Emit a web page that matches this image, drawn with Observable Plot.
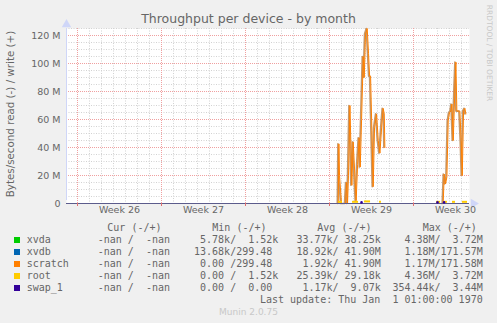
<!DOCTYPE html>
<html><head><meta charset="utf-8">
<script src="https://cdn.jsdelivr.net/npm/d3@7"></script>
<script src="https://cdn.jsdelivr.net/npm/@observablehq/plot@0.6"></script>
<style>
body{margin:0;background:#f0f0f0;}
#wrap{position:relative;width:497px;height:323px;background:#f0f0f0;overflow:hidden;font-family:"DejaVu Sans",sans-serif;color:#666;}
#wrap svg{position:absolute;left:0;top:0;}
.abs{position:absolute;white-space:pre;}
.mono{font-family:"DejaVu Sans Mono",monospace;font-size:10px;line-height:12px;height:12px;}
</style></head><body><div id="wrap"></div>
<script>
// ---- data (days since start of Week 26, values in MB/s) ----
const weekLabels = ["Week 26", "Week 27", "Week 28", "Week 29", "Week 30"];
const weekMid = [3.5, 10.5, 17.5, 24.5, 31.5];
const weekStarts = [0, 7, 14, 21, 28];
const yTicks = [0, 20e6, 40e6, 60e6, 80e6, 100e6, 120e6];
const yTickLabels = ["0", "20 M", "40 M", "60 M", "80 M", "100 M", "120 M"];

const days = [21.70, 21.75, 21.80, 21.97, 22.30, 22.39, 22.47, 22.55, 22.67, 22.83, 22.94, 23.19, 23.31, 23.44, 23.53, 23.64, 23.78, 23.86, 23.97, 24.11, 24.22, 24.31, 24.39, 24.50, 24.61, 24.72, 24.89, 25.03, 25.17, 25.31, 25.44, 25.53, 25.58,
  26.0,
  30.40, 30.44, 30.53, 30.64, 30.75, 30.86, 30.97, 31.08, 31.17, 31.28, 31.42, 31.50, 31.58, 31.83, 31.94, 32.03, 32.14, 32.25, 32.33];
const scratchWrite = [0, 42.6, 20, 0, 0, 15, 0, 20, 70, 13, 44, 2, 28, 47, 26, 60, 105, 90, 121, 125, 107, 91, 91, 52, 12, 54, 64, 45, 36, 54, 68, 64, 40,
  null,
  0, 0, 21, 14, 19, 59, 65, 66, 71, 45, 83, 101, 66, 66, 45, 20, 66, 68, 64];
const xvdbWrite = [0, 42.6, 20, 0, 0, 15, 0, 20, 70, 13, 44, 2, 28, 47, 26, 60, 105, 90, 121, 125, 107, 91, 91, 52, 12, 54, 64, 45, 36, 54, 68, 64, 40,
  null,
  0, 0, 21, 14, 19, 59, 65, 66, 71, 45, 83, 101, 66, 66, 45, 20, 66, 68, 64];

const rootFrom = [21.75, 22.92, 23.92, 25.17, 29.92, 30.58, 31.25, 32.08];
const rootTo   = [22.08, 23.42, 24.42, 25.33, 30.25, 30.83, 31.50, 32.50];
const rootVal  = [1.2, 1.2, 1.5, 1.2, 1.2, 1.2, 1.2, 1.2];
const swapDays = [23.67, 30.0, 30.55];
const swapVal  = [0.8, 0.8, 0.8];

// legend table
const legendNames = ["xvda", "xvdb", "scratch", "root", "swap_1"];
const legendColors = ["#00cc00", "#0066b3", "#ff8000", "#ffcc00", "#330099"];
const curCol = ["  -nan /  -nan ", "  -nan /  -nan ", "  -nan /  -nan ", "  -nan /  -nan ", "  -nan /  -nan "];
const minCol = ["  5.78k/  1.52k", " 13.68k/299.48 ", "  0.00 /299.48 ", "  0.00 /  1.52k", "  0.00 /  0.00 "];
const avgCol = [" 33.77k/ 38.25k", " 18.92k/ 41.90M", "  1.92k/ 41.90M", " 25.39k/ 29.18k", "  1.17k/  9.07k"];
const maxCol = ["  4.38M/  3.72M", "  1.18M/171.57M", "  1.17M/171.58M", "  4.36M/  3.72M", "354.44k/  3.44M"];
const headers = ["Cur (-/+)", "Min (-/+)", "Avg (-/+)", "Max (-/+)"];

// ---- build ----
const xMin = -11 / 12, xMax = 392 / 12;
const rows = days.map((d, i) => ({day: d, s: scratchWrite[i] == null ? NaN : scratchWrite[i] * 1e6, b: xvdbWrite[i] == null ? NaN : xvdbWrite[i] * 1e6}));
const minorY = d3.range(5e6, 125e6 + 1, 5e6).filter(v => v % 20e6 !== 0);
const minorX = d3.range(0, 33).filter(v => v % 7 !== 0);
const rootIdx = rootFrom.map((_, i) => i);
const swapRows = swapDays.map((d, i) => ({day: d, v: swapVal[i] * 1e6}));

const chart = Plot.plot({
  width: 497, height: 222,
  marginLeft: 66, marginRight: 28, marginTop: 28, marginBottom: 19,
  style: {background: "transparent", fontFamily: "DejaVu Sans", fontSize: "9.5px", color: "#666", overflow: "visible"},
  x: {domain: [xMin, xMax], label: null},
  y: {domain: [0, 125e6], label: null},
  marks: [
    Plot.frame({fill: "white", stroke: "none"}),
    Plot.ruleY(minorY, {stroke: "#d2d2d2", strokeDasharray: "1,1.5"}),
    Plot.ruleX(minorX, {stroke: "#d2d2d2", strokeDasharray: "1,1.5"}),
    Plot.ruleY(yTicks.filter(v => v > 0), {stroke: "#f0a0a0", strokeDasharray: "1,1"}),
    Plot.ruleX(weekStarts, {stroke: "#f0a0a0", strokeDasharray: "1,1"}),
    Plot.line(rows, {x: "day", y: "b", stroke: "#c4976a", strokeWidth: 1.6, dx: -0.6}),
    Plot.line(rows, {x: "day", y: "s", stroke: "#ff8000", strokeWidth: 1, dx: 0.4}),
    Plot.ruleY(rootIdx, {x1: i => rootFrom[i], x2: i => rootTo[i], y: i => rootVal[i] * 1e6, stroke: "#ffcc00", strokeWidth: 2}),
    Plot.ruleX([xMin], {y1: 0, y2: 125e6, stroke: "#cfd6f8", insetTop: -3}),
    Plot.ruleY([0], {stroke: "#5c5c8c"}),
    Plot.dot(swapRows, {x: "day", y: "v", r: 1.3, fill: "#330099", stroke: "none"}),
    Plot.dot([xMin], {x: d => d, y: () => 125e6, dy: -4, symbol: "triangle", r: 3.5, fill: "#cfd6f8", stroke: "none"}),
    Plot.dot([xMax], {x: d => d, y: () => 0, dx: 4, symbol: "triangle", rotate: 90, r: 3.5, fill: "#cfd6f8", stroke: "none"}),
    Plot.axisY(yTicks, {tickSize: 0, tickPadding: 6, tickFormat: d => yTickLabels[yTicks.indexOf(d)], fontSize: 9.5, fill: "#666", label: null}),
    Plot.axisX(weekStarts, {tickSize: 3, tickFormat: () => "", stroke: "#e07070", label: null}),
    Plot.axisX(weekMid, {tickSize: 0, tickPadding: 3, tickFormat: d => weekLabels[weekMid.indexOf(d)], fontSize: 9.5, fill: "#666", label: null})
  ]
});

const wrap = document.getElementById("wrap");
wrap.appendChild(chart);

function addText(txt, css, cls) {
  const el = document.createElement("div");
  el.className = "abs" + (cls ? " " + cls : "");
  el.textContent = txt;
  Object.assign(el.style, css);
  wrap.appendChild(el);
  return el;
}

// title
addText("Throughput per device - by month", {left: "0px", top: "11px", width: "497px", textAlign: "center", fontSize: "12.5px", lineHeight: "16px", color: "#666"});
// y label
addText("Bytes/second read (-) / write (+)", {left: (10 - 110) + "px", top: (114 - 7) + "px", width: "220px", textAlign: "center", fontSize: "10.3px", lineHeight: "14px", transform: "rotate(-90deg)", transformOrigin: "center center", color: "#666"});
// rrdtool credit
addText("RRDTOOL / TOBI OETIKER", {left: (489 - 60) + "px", top: (53 - 5) + "px", width: "120px", textAlign: "center", fontSize: "7.5px", lineHeight: "10px", transform: "rotate(90deg)", transformOrigin: "center center", color: "#c8c8c8"});

// legend headers
const headerLeft = [107.3, 212.3, 317.3, 422.7];
headers.forEach((h, i) => addText(h, {left: headerLeft[i] + "px", top: (228 - 6) + "px"}, "mono"));
// legend rows
const rightEdges = [176, 278.3, 380.7, 482.7];
legendNames.forEach((name, r) => {
  const cy = 240 + r * 12;
  const sq = document.createElement("div");
  Object.assign(sq.style, {position: "absolute", left: "14px", top: (cy - 3) + "px", width: "6px", height: "6px", background: legendColors[r]});
  wrap.appendChild(sq);
  addText(name, {left: "26.7px", top: (cy - 6) + "px"}, "mono");
  [curCol, minCol, avgCol, maxCol].forEach((col, c) => {
    addText(col[r], {right: (497 - rightEdges[c]) + "px", top: (cy - 6) + "px", textAlign: "right"}, "mono");
  });
});
addText("Last update: Thu Jan  1 01:00:00 1970", {right: (497 - 482.7) + "px", top: (299.5 - 6) + "px", textAlign: "right"}, "mono");
addText("Munin 2.0.75", {left: "0px", width: "497px", textAlign: "center", top: (312 - 6) + "px", fontSize: "9px", lineHeight: "12px", color: "#c8c8c8"});
</script>
</body></html>
